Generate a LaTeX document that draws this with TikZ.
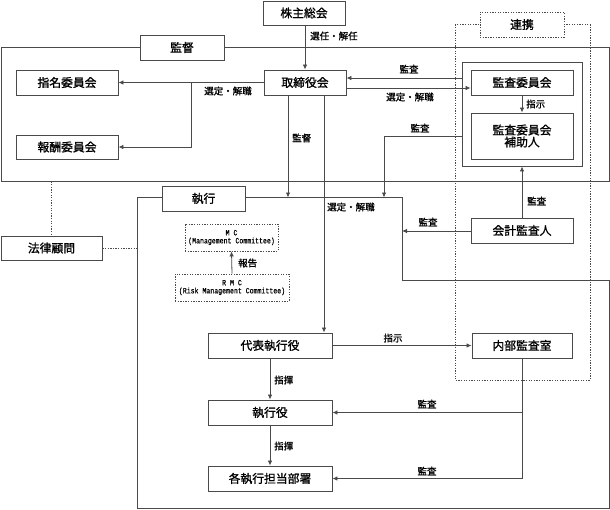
\documentclass[tikz,border=0pt]{standalone}
\usepackage{fontspec}
\newfontfamily\jp[FakeBold=1.2]{Noto Sans CJK JP}
\newfontfamily\mcfont[FakeStretch=0.82,FakeBold=0.6]{Liberation Mono}
\usetikzlibrary{arrows.meta}
\definecolor{ln}{HTML}{4A4A4A}
\tikzset{
  box/.style={draw=ln, line width=0.9pt, fill=white, inner sep=0pt, font=\jp\fontsize{11.8}{13}\selectfont, text=black},
  dbox/.style={draw=ln, line width=0.8pt, dash pattern=on 1.3pt off 1.3pt, fill=white, inner sep=0pt, align=center, font=\mcfont\fontsize{8}{9}\selectfont},
  lbl/.style={font=\jp\fontsize{9.5}{10}\selectfont, inner sep=0pt, text=black},
  ln/.style={draw=ln, line width=0.8pt},
  arr/.style={ln, -{Latex[length=5pt,width=4.5pt]}},
  dline/.style={draw=ln, line width=0.8pt, dash pattern=on 1.3pt off 1.3pt},
}
\begin{document}
\begin{tikzpicture}[x=1pt,y=-1pt]
\useasboundingbox (0,0) rectangle (610,509);
% supervision frame
\draw[ln] (1,47.5) rectangle (609,181.5);
% execution frame
\draw[ln] (137,197.5) -- (402,197.5) -- (402,280) -- (609,280) -- (609,508) -- (137,508) -- cycle;
% renkei region
\draw[dline] (455,24.5) rectangle (590,380);
% audit outer box
\node[box, fill=none, minimum width=120pt, minimum height=104pt] (acouter) at (522,114) {};
% nodes
\node[box, minimum width=82pt, minimum height=24pt] (kabu) at (304,13) {株主総会};
\node[box, minimum width=84pt, minimum height=25pt] (kantoku) at (182,47.5) {監督};
\node[box, minimum width=102pt, minimum height=25pt] (shimei) at (67,82.5) {指名委員会};
\node[box, minimum width=102pt, minimum height=24pt] (houshu) at (67,147) {報酬委員会};
\node[box, minimum width=82pt, minimum height=25pt] (tori) at (305,82.5) {取締役会};
\node[box, minimum width=102pt, minimum height=25pt] (kansaiin) at (522,82.5) {監査委員会};
\node[box, minimum width=102pt, minimum height=46pt, align=center] (hojo) at (522,136) {監査委員会\\[-1pt]補助人};
\node[dbox, minimum width=84pt, minimum height=25pt, font=\jp\fontsize{11.8}{13}\selectfont] (renkei) at (522,24.5) {連携};
\node[box, minimum width=102pt, minimum height=25pt] (kaikei) at (522,230.5) {会計監査人};
\node[box, minimum width=101pt, minimum height=24pt] (houritsu) at (51.5,248) {法律顧問};
\node[box, minimum width=83pt, minimum height=25pt] (shikkou) at (203.5,198.5) {執行};
\node[dbox, minimum width=93pt, minimum height=27pt] (mc) at (231.5,237.5) {M C\\[-1pt](Management Committee)};
\node[dbox, minimum width=114pt, minimum height=27pt] (rmc) at (232,287.5) {R M C\\[-1pt](Risk Management Committee)};
\node[box, minimum width=124pt, minimum height=25pt] (daihyo) at (270,345.5) {代表執行役};
\node[box, minimum width=124pt, minimum height=25pt] (yaku) at (270,412.5) {執行役};
\node[box, minimum width=124pt, minimum height=25pt] (kaku) at (270,478.5) {各執行担当部署};
\node[box, minimum width=100pt, minimum height=25pt] (naibu) at (522,345.5) {内部監査室};
% coordinates
\coordinate (bx) at (191,82.5);
\coordinate (by) at (191,147);
\coordinate (kA) at (384,136);
\coordinate (kB) at (384,197.5);
\coordinate (kt) at (288,197.5);
\coordinate (ex) at (402,231);
\coordinate (lg) at (51.5,181.5);
\coordinate (lx) at (137,248);
\coordinate (nb) at (522,478.5);
\coordinate (nm) at (522,412.5);
% connectors
\draw[arr] (kabu.south -| 305,0) -- (tori.north -| 305,0);
\node[lbl, anchor=west] at (310,36) {選任・解任};
\draw[arr] (tori.west) -- (shimei.east);
\draw[arr] (bx) -- (by) -- (houshu.east);
\node[lbl] at (228,91) {選定・解職};
\draw[arr] (tori.east |- 0,88) -- (kansaiin.west |- 0,88);
\node[lbl] at (410,97) {選定・解職};
\draw[arr] (acouter.west |- 0,78) -- (tori.east |- 0,78);
\node[lbl] at (409,69) {監査};
\draw[arr] (kansaiin.south) -- (hojo.north);
\node[lbl, anchor=west] at (526,104) {指示};
\draw[arr] (acouter.west |- kA) -- (kA) -- (kB);
\node[lbl] at (420,128) {監査};
\draw[arr] (tori.south -| kt) -- (kt);
\node[lbl, anchor=west] at (292,138) {監督};
\draw[arr] (tori.south -| 324,0) -- (daihyo.north -| 324,0);
\node[lbl, anchor=west] at (327,207) {選定・解職};
\draw[arr] (kaikei.north) -- (acouter.south);
\node[lbl, anchor=west] at (527,201) {監査};
\draw[arr] (kaikei.west |- ex) -- (ex);
\node[lbl] at (428,222) {監査};
\draw[dline] (lg) -- (houritsu.north);
\draw[dline] (houritsu.east) -- (lx);
\draw[arr] (rmc.north) -- (mc.south);
\node[lbl, anchor=west] at (238,263) {報告};
\draw[arr] (daihyo.east) -- (naibu.west);
\node[lbl] at (393,338) {指示};
\draw[arr] (daihyo.south) -- (yaku.north);
\node[lbl, anchor=west] at (274,380) {指揮};
\draw[arr] (yaku.south) -- (kaku.north);
\node[lbl, anchor=west] at (274,446) {指揮};
\draw[ln] (naibu.south) -- (nb);
\draw[arr] (nb) -- (kaku.east);
\draw[arr] (nm) -- (yaku.east);
\node[lbl] at (427,404) {監査};
\node[lbl] at (427,471) {監査};
\end{tikzpicture}
\end{document}
